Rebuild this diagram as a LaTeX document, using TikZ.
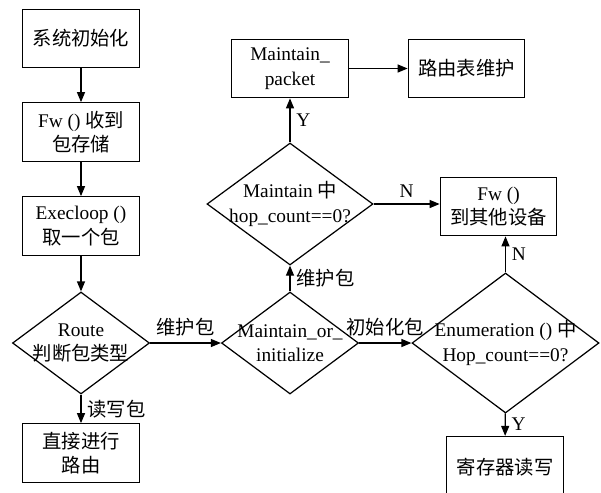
\documentclass[tikz,border=0pt]{standalone}
\usepackage{fontspec}
\setmainfont{Liberation Serif}
\newfontfamily\cjk{Noto Sans CJK SC}
\newcommand{\zh}[1]{{\cjk #1}}
\usetikzlibrary{positioning,arrows.meta,shapes.geometric}

\begin{document}
\begin{tikzpicture}[
    every node/.style={font=\fontsize{11}{14}\selectfont},
    box/.style={draw, line width=0.7pt, minimum width=2.33cm, minimum height=1.17cm, align=center, inner sep=1pt},
    dia/.style={draw, diamond, line width=0.7pt, inner sep=0pt},
    every label/.style={align=center},
    arr/.style={line width=0.7pt, -{Triangle[length=2mm,width=1.6mm]}}]
  \useasboundingbox (0,0) rectangle (12.02,-9.84);
  % Left column
  \node[box] (init) at (1.62,-0.77) {\zh{系统初始化}};
  \node[box] (fw) at (1.62,-2.64) {Fw () \zh{收到}\\\zh{包存储}};
  \node[box] (exec) at (1.62,-4.52) {Execloop ()\\\zh{取一个包}};
  \node[dia, minimum width=2.74cm, minimum height=2.04cm,
        label=center:{Route\\\zh{判断包类型}}] (route) at (1.62,-6.86) {};
  \node[box] (direct) at (1.62,-9.06) {\zh{直接进行}\\\zh{路由}};
  % Middle column
  \node[dia, minimum width=2.74cm, minimum height=2.04cm,
        label=center:{Maintain\_or\_\\initialize}] (moi) at (5.80,-6.86) {};
  \node[dia, minimum width=3.32cm, minimum height=2.44cm,
        label=center:{Maintain \zh{中}\\hop\_count==0?}] (mhop) at (5.80,-4.08) {};
  \node[box] (mpkt) at (5.80,-1.37) {Maintain\_\\packet};
  \node[box] (rtab) at (9.33,-1.37) {\zh{路由表维护}};
  % Right column
  \node[box] (fwo) at (9.97,-4.13) {Fw ()\\\zh{到其他设备}};
  \node[dia, minimum width=3.74cm, minimum height=2.80cm,
        label=center:{Enumeration () \zh{中}\\Hop\_count==0?}] (enum) at (10.11,-6.86) {};
  \node[box, minimum height=1.22cm] (reg) at (10.10,-9.34) {\zh{寄存器读写}};
  % Connectors
  \draw[arr] (init) -- (fw);
  \draw[arr] (fw) -- (exec);
  \draw[arr] (exec) -- (route);
  \draw[arr] (route) -- node[right] {\zh{读写包}} (direct);
  \draw[arr] (route) -- node[above] {\zh{维护包}} (moi);
  \draw[arr] (moi) -- node[right] {\zh{维护包}} (mhop);
  \draw[arr] (moi) -- node[above] {\zh{初始化包}} (enum);
  \draw[arr] (mhop) -- node[right] {Y} (mpkt);
  \draw[arr] (mpkt) -- (rtab);
  \draw[arr] (mhop.east) -- node[above] {N} (mhop.east -| fwo.west);
  \draw[arr] (enum.north) -- node[right] {N} (enum.north |- fwo.south);
  \draw[arr] (enum) -- node[right] {Y} (reg);
\end{tikzpicture}
\end{document}
